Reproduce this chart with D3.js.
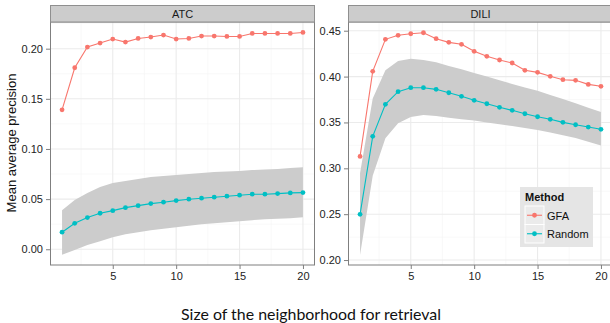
<!DOCTYPE html>
<html>
<head>
<meta charset="utf-8">
<script src="https://cdn.jsdelivr.net/npm/d3@7"></script>
<style>
  body { margin: 0; background: #fff; }
  svg { display: block; }
</style>
</head>
<body>
<div id="chart"></div>
<script>
// neighborhood sizes
var sizes = d3.range(1, 21);

// ATC panel
var atcGFA = [0.139, 0.181, 0.2016, 0.2056, 0.2096, 0.2066, 0.2102, 0.2116, 0.2136, 0.2096,
              0.2102, 0.2126, 0.2126, 0.2122, 0.2122, 0.2152, 0.2152, 0.2152, 0.2152, 0.2162];
var atcRandom = [0.017, 0.0259, 0.0316, 0.0359, 0.0385, 0.0415, 0.0435, 0.0455, 0.0469, 0.0485,
                 0.0499, 0.0509, 0.0519, 0.0529, 0.0539, 0.0549, 0.0549, 0.0555, 0.0562, 0.0565];
var atcUpper = [0.039, 0.049, 0.056, 0.062, 0.066, 0.068, 0.070, 0.072, 0.073, 0.074,
                0.075, 0.076, 0.077, 0.0775, 0.078, 0.079, 0.0795, 0.080, 0.081, 0.0818];
var atcLower = [-0.0054, -0.0007, 0.0043, 0.008, 0.012, 0.015, 0.017, 0.019, 0.0205, 0.022,
                0.0235, 0.025, 0.026, 0.027, 0.028, 0.029, 0.030, 0.0305, 0.031, 0.032];

// DILI panel
var diliGFA = [0.313, 0.4057, 0.4406, 0.445, 0.4467, 0.4478, 0.4413, 0.4373, 0.4352, 0.4275,
               0.4221, 0.4181, 0.4148, 0.4068, 0.4046, 0.4003, 0.3966, 0.3959, 0.3915, 0.3894];
var diliRandom = [0.2498, 0.3349, 0.3698, 0.3835, 0.3879, 0.3879, 0.3861, 0.3824, 0.3785, 0.3741,
                  0.3704, 0.3665, 0.3632, 0.3595, 0.3562, 0.3534, 0.3501, 0.3475, 0.345, 0.3425];
var diliUpper = [0.2945, 0.376, 0.407, 0.417, 0.4195, 0.418, 0.4155, 0.4115, 0.408, 0.404,
                 0.400, 0.396, 0.392, 0.388, 0.3846, 0.380, 0.3755, 0.371, 0.366, 0.3615];
var diliLower = [0.2055, 0.292, 0.3327, 0.349, 0.356, 0.358, 0.357, 0.355, 0.3535, 0.352,
                 0.350, 0.348, 0.346, 0.344, 0.3417, 0.339, 0.336, 0.333, 0.329, 0.325];

var xTicks = [5, 10, 15, 20];
var xMinor = [2.5, 7.5, 12.5, 17.5];
var methods = ["GFA", "Random"];
var colors = {GFA: "#F8766D", Random: "#00BFC4"};

var panels = [
  {name: "ATC", gfa: atcGFA, rnd: atcRandom, up: atcUpper, lo: atcLower,
   domain: [-0.0157, 0.2266], ticks: [0.00, 0.05, 0.10, 0.15, 0.20],
   minor: [0.025, 0.075, 0.125, 0.175, 0.225], left: 50, right: 315},
  {name: "DILI", gfa: diliGFA, rnd: diliRandom, up: diliUpper, lo: diliLower,
   domain: [0.1946, 0.4595], ticks: [0.20, 0.25, 0.30, 0.35, 0.40, 0.45],
   minor: [0.225, 0.275, 0.325, 0.375, 0.425], left: 348, right: 613}
];

var W = 610, H = 323,
    stripTop = 5, stripBottom = 22, plotBottom = 265;

var svg = d3.select("#chart")
    .append("svg")
    .attr("width", W)
    .attr("height", H)
    .style("font-family", "'Liberation Sans', Arial, sans-serif");

panels.forEach(function(p){
  var x = d3.scaleLinear().domain([0.05, 20.95]).range([p.left, p.right]);
  var y = d3.scaleLinear().domain(p.domain).range([plotBottom, stripBottom]);

  var g = svg.append("g");

  // panel background
  g.append("rect")
    .attr("x", p.left).attr("y", stripBottom)
    .attr("width", p.right - p.left).attr("height", plotBottom - stripBottom)
    .attr("fill", "#fff");

  // minor grid
  g.selectAll(".minor-x").data(xMinor).enter().append("line")
    .attr("x1", function(d){ return x(d); }).attr("x2", function(d){ return x(d); })
    .attr("y1", stripBottom).attr("y2", plotBottom)
    .attr("stroke", "#f5f5f5").attr("stroke-width", 0.6);
  g.selectAll(".minor-y").data(p.minor.filter(function(d){ return d > p.domain[0] && d < p.domain[1]; }))
    .enter().append("line")
    .attr("x1", p.left).attr("x2", p.right)
    .attr("y1", function(d){ return y(d); }).attr("y2", function(d){ return y(d); })
    .attr("stroke", "#f5f5f5").attr("stroke-width", 0.6);

  // major grid
  g.selectAll(".major-x").data(xTicks).enter().append("line")
    .attr("x1", function(d){ return x(d); }).attr("x2", function(d){ return x(d); })
    .attr("y1", stripBottom).attr("y2", plotBottom)
    .attr("stroke", "#ebebeb").attr("stroke-width", 1.1);
  g.selectAll(".major-y").data(p.ticks).enter().append("line")
    .attr("x1", p.left).attr("x2", p.right)
    .attr("y1", function(d){ return y(d); }).attr("y2", function(d){ return y(d); })
    .attr("stroke", "#ebebeb").attr("stroke-width", 1.1);

  // ribbon
  var area = d3.area()
      .x(function(d, i){ return x(sizes[i]); })
      .y0(function(d, i){ return y(p.lo[i]); })
      .y1(function(d, i){ return y(p.up[i]); });
  g.append("path")
    .datum(sizes)
    .attr("d", area)
    .attr("fill", "#cccccc");

  // lines + points
  [["GFA", p.gfa], ["Random", p.rnd]].forEach(function(s){
    var line = d3.line()
        .x(function(d, i){ return x(sizes[i]); })
        .y(function(d){ return y(d); });
    g.append("path")
      .datum(s[1])
      .attr("d", line)
      .attr("fill", "none")
      .attr("stroke", colors[s[0]])
      .attr("stroke-width", 1.1);
    g.selectAll(".pt-" + s[0]).data(s[1]).enter().append("circle")
      .attr("cx", function(d, i){ return x(sizes[i]); })
      .attr("cy", function(d){ return y(d); })
      .attr("r", 2.4)
      .attr("fill", colors[s[0]]);
  });

  // panel border
  g.append("rect")
    .attr("x", p.left + 0.5).attr("y", stripBottom)
    .attr("width", p.right - p.left - 1).attr("height", plotBottom - stripBottom)
    .attr("fill", "none").attr("stroke", "#7f7f7f").attr("stroke-width", 1);

  // strip
  g.append("rect")
    .attr("x", p.left + 0.5).attr("y", stripTop + 0.5)
    .attr("width", p.right - p.left - 1).attr("height", stripBottom - stripTop - 0.5)
    .attr("fill", "#cccccc").attr("stroke", "#8f8f8f").attr("stroke-width", 1);
  g.append("text")
    .attr("x", (p.left + p.right) / 2)
    .attr("y", (stripTop + stripBottom) / 2 + 4)
    .attr("text-anchor", "middle")
    .attr("font-size", 11)
    .attr("fill", "#1a1a1a")
    .text(p.name);

  // axes
  var ax = g.append("g")
    .attr("transform", "translate(0," + plotBottom + ")")
    .call(d3.axisBottom(x).tickValues(xTicks).tickSize(4).tickPadding(3).tickFormat(d3.format("d")));
  var ay = g.append("g")
    .attr("transform", "translate(" + p.left + ",0)")
    .call(d3.axisLeft(y).tickValues(p.ticks).tickSize(4).tickPadding(3).tickFormat(d3.format(".2f")));
  [ax, ay].forEach(function(a){
    a.select(".domain").remove();
    a.selectAll(".tick line").attr("stroke", "#7f7f7f");
    a.selectAll(".tick text")
      .attr("font-size", 11)
      .attr("font-family", "'Liberation Sans', Arial, sans-serif")
      .attr("fill", "#222");
  });
});

// axis titles
svg.append("text")
  .attr("transform", "rotate(-90)")
  .attr("x", -143)
  .attr("y", 16)
  .attr("text-anchor", "middle")
  .attr("font-size", 13)
  .attr("fill", "#111")
  .text("Mean average precision");

svg.append("text")
  .attr("x", 311)
  .attr("y", 320)
  .attr("text-anchor", "middle")
  .attr("font-size", 15)
  .attr("textLength", 260)
  .attr("lengthAdjust", "spacingAndGlyphs")
  .attr("font-family", "Lato, 'DejaVu Sans', sans-serif")
  .attr("fill", "#111")
  .text("Size of the neighborhood for retrieval");

// legend
var leg = svg.append("g").attr("transform", "translate(520,187)");
leg.append("rect")
  .attr("width", 73).attr("height", 60)
  .attr("fill", "#e5e5e5");
leg.append("text")
  .attr("x", 5).attr("y", 14)
  .attr("font-size", 11)
  .attr("font-weight", "bold")
  .attr("fill", "#111")
  .text("Method");
methods.forEach(function(m, i){
  var k = leg.append("g").attr("transform", "translate(5," + (19 + i * 18.5) + ")");
  k.append("rect")
    .attr("width", 19).attr("height", 18.5)
    .attr("fill", "#ebebeb").attr("stroke", "#fff").attr("stroke-width", 1);
  k.append("line")
    .attr("x1", 2).attr("x2", 17).attr("y1", 9.25).attr("y2", 9.25)
    .attr("stroke", colors[m]).attr("stroke-width", 1.1);
  k.append("circle")
    .attr("cx", 9.5).attr("cy", 9.25).attr("r", 2.4)
    .attr("fill", colors[m]);
  k.append("text")
    .attr("x", 22).attr("y", 13.5)
    .attr("font-size", 11)
    .attr("fill", "#111")
    .text(m);
});
</script>
</body>
</html>
